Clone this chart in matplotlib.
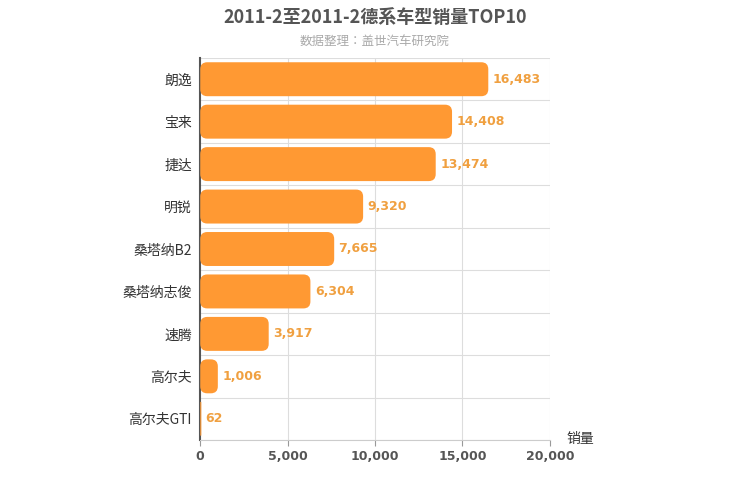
import matplotlib.pyplot as plt
from matplotlib import font_manager
from matplotlib.patches import FancyBboxPatch

# pick whatever CJK family is actually registered
cjk = [f.name for f in font_manager.fontManager.ttflist if 'CJK' in f.name]
fam = 'Noto Sans CJK SC' if 'Noto Sans CJK SC' in cjk else (cjk[0] if cjk else 'DejaVu Sans')
plt.rcParams['font.family'] = [fam, 'DejaVu Sans']

models = ['朗逸', '宝来', '捷达', '明锐', '桑塔纳B2', '桑塔纳志俊', '速腾', '高尔夫', '高尔夫GTI']
sales = [16483, 14408, 13474, 9320, 7665, 6304, 3917, 1006, 62]
xticks = [0, 5000, 10000, 15000, 20000]

bar_color = '#FF9933'

fig = plt.figure(figsize=(7.5, 5), dpi=100)
ax = fig.add_axes([0.267, 0.12, 0.466, 0.764])
n = len(models)
ax.set_xlim(0, 20000)
ax.set_ylim(n - 0.5, -0.5)

# px -> data units, for nicely rounded corners
xu = 20000 / 350.0
yu = n / 382.0
h = 0.8
for i, v in enumerate(sales):
    box = FancyBboxPatch((0, i - h / 2), v, h,
                         boxstyle='round,pad=0,rounding_size=%f' % (min(7 * xu, v / 2)),
                         mutation_aspect=yu / xu,
                         fc=bar_color, ec='none', zorder=3)
    ax.add_patch(box)
    ax.text(v + 250, i, '{:,}'.format(v), va='center', ha='left',
            color='#F0A040', fontsize=9, fontweight='bold', zorder=4,
            fontfamily='DejaVu Sans')

for x in xticks[1:]:
    ax.axvline(x, color='#DDDDDD', lw=0.8, zorder=1)
for k in range(n + 1):
    ax.axhline(k - 0.5, color='#DDDDDD', lw=0.8, zorder=1)

ax.set_yticks(range(n))
ax.set_yticklabels(models, fontsize=10, color='#333333')
ax.set_xticks(xticks)
ax.set_xticklabels(['{:,}'.format(x) for x in xticks], fontsize=9, color='#555555',
                   fontweight='bold', fontfamily='DejaVu Sans')
ax.tick_params(axis='y', length=0, pad=6)
ax.tick_params(axis='x', length=4, color='#999999')
for s in ['top', 'right']:
    ax.spines[s].set_visible(False)
ax.spines['bottom'].set_color('#CCCCCC')
ax.spines['left'].set_color('#555555')
ax.spines['left'].set_linewidth(1.5)

fig.text(0.5, 0.965, '2011-2至2011-2德系车型销量TOP10', ha='center', va='center',
         fontsize=13, fontweight='bold', color='#555555')
fig.text(0.5, 0.918, '数据整理：盖世汽车研究院', ha='center', va='center',
         fontsize=9, color='#AAAAAA')
fig.text(0.755, 0.122, '销量', ha='left', va='center', fontsize=10, color='#333333')

fig.savefig('out.png', dpi=100)
